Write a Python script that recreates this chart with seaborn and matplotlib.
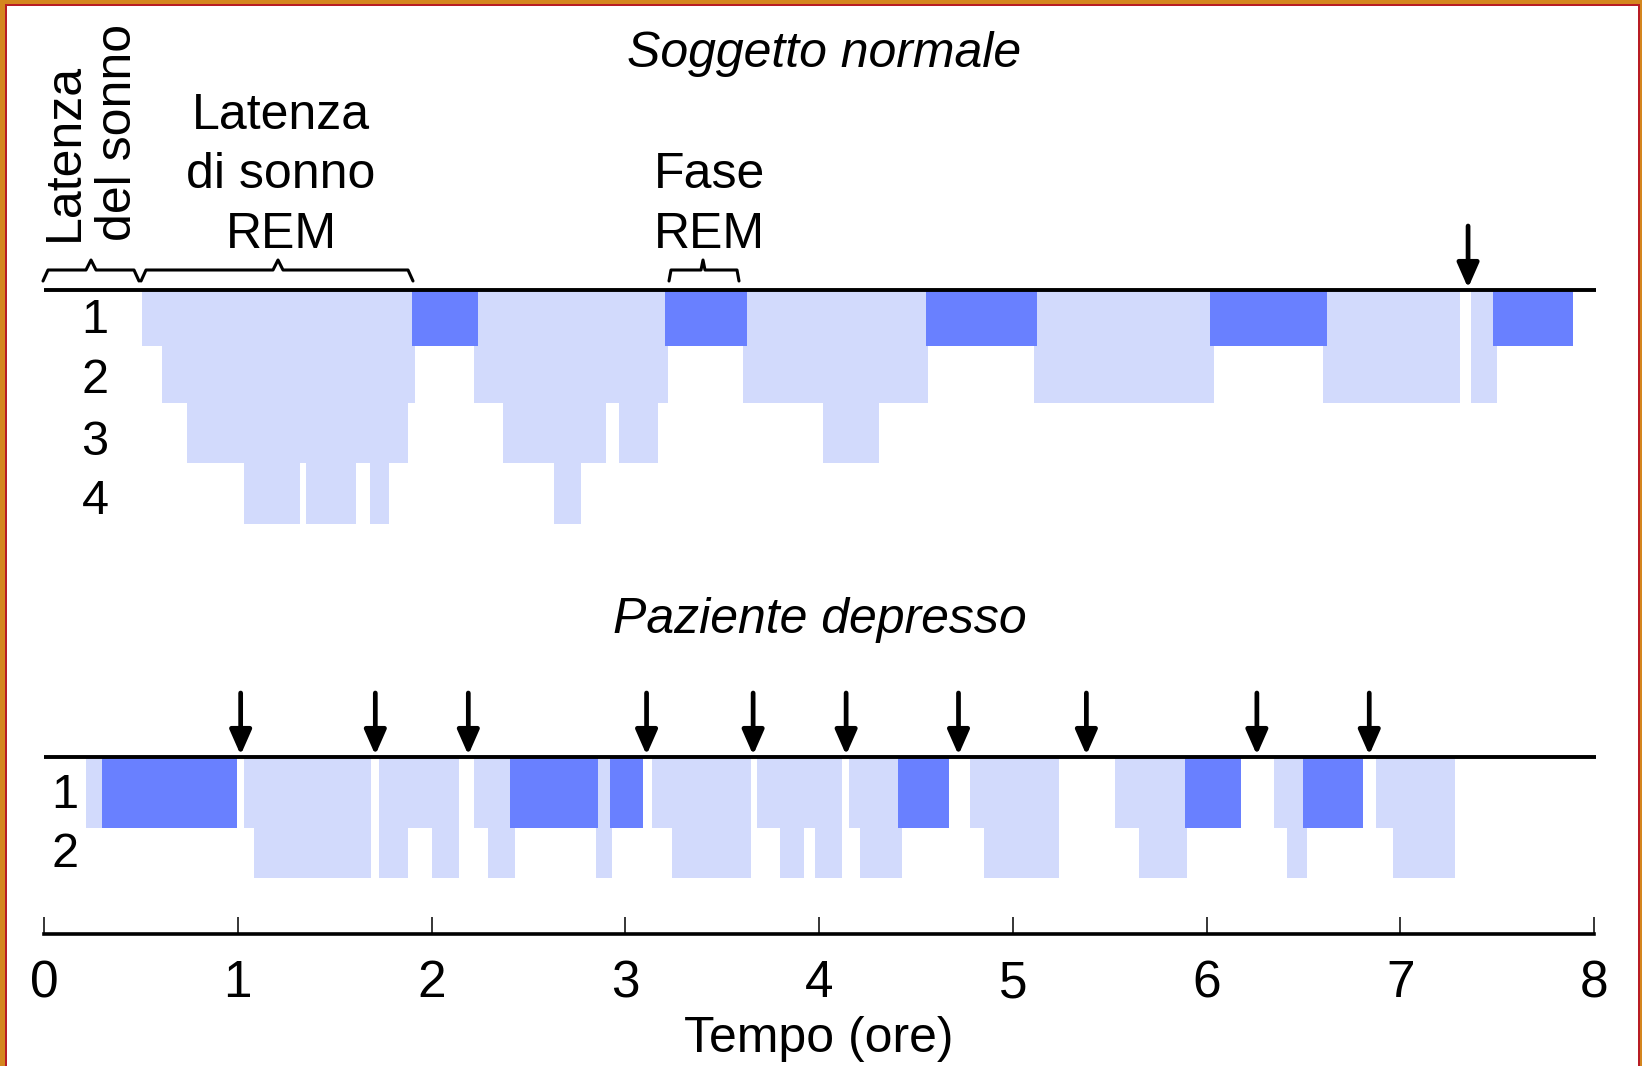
import matplotlib
matplotlib.use("Agg")
import matplotlib.pyplot as plt
from matplotlib.patches import Rectangle
import pandas as pd
import seaborn as sns

# ---- dati (ore) ----
# soggetto normale: blocchi di sonno non-REM (inizio, fine) per stadio
norm_stadio1 = [(0.506, 1.90), (2.24, 3.205), (3.63, 4.55), (5.125, 6.02), (6.62, 7.31), (7.365, 7.48)]
norm_stadio2 = [(0.61, 1.915), (2.22, 3.22), (3.61, 4.56), (5.11, 6.04), (6.60, 7.31), (7.365, 7.50)]
norm_stadio3 = [(0.74, 1.88), (2.37, 2.90), (2.97, 3.17), (4.02, 4.31)]
norm_stadio4 = [(1.03, 1.32), (1.35, 1.61), (1.68, 1.78), (2.63, 2.77)]
norm_rem = [(1.90, 2.24), (3.205, 3.63), (4.55, 5.125), (6.02, 6.62), (7.48, 7.89)]
norm_risvegli = [7.35]

# paziente depresso
dep_stadio1 = [(0.216, 0.30), (1.034, 1.69), (1.73, 2.14), (2.22, 2.405), (2.86, 2.92), (3.14, 3.65),
               (3.68, 4.12), (4.155, 4.41), (4.78, 5.24), (5.53, 5.89), (6.35, 6.50), (6.875, 7.28)]
dep_stadio2 = [(1.085, 1.69), (1.73, 1.88), (2.00, 2.14), (2.29, 2.43), (2.85, 2.93), (3.24, 3.65),
               (3.80, 3.92), (3.98, 4.12), (4.21, 4.43), (4.85, 5.24), (5.65, 5.90), (6.415, 6.52),
               (6.96, 7.28)]
dep_rem = [(0.30, 0.996), (2.405, 2.86), (2.92, 3.09), (4.41, 4.67), (5.89, 6.18), (6.50, 6.81)]
dep_risvegli = [1.015, 1.71, 2.19, 3.11, 3.66, 4.14, 4.72, 5.38, 6.26, 6.84]

stadi_norm = ["1", "2", "3", "4"]
stadi_dep = ["1", "2"]
ore = list(range(9))

# ---- layout (pixel della figura, dall'alto) ----
W, H = 1642, 1066
X0, PX_ORA = 44, 193.75
base_norm, fondi_norm = 290, [346, 402.5, 462.5, 524]
base_dep, fondi_dep = 757, [828, 878]
y_asse = 934
CHIARO, SCURO = "#D2DAFC", "#6980FF"


def h(px):
    return (px - X0) / PX_ORA


rows = []
for pan, liste in [("norm", [norm_stadio1, norm_stadio2, norm_stadio3, norm_stadio4]),
                   ("dep", [dep_stadio1, dep_stadio2])]:
    for k, lst in enumerate(liste):
        for a, b in lst:
            rows.append(dict(pannello=pan, stadio=k + 1, inizio=a, fine=b, rem=False))
for pan, lst in [("norm", norm_rem), ("dep", dep_rem)]:
    for a, b in lst:
        rows.append(dict(pannello=pan, stadio=1, inizio=a, fine=b, rem=True))
df = pd.DataFrame(rows)

sns.set_theme(style="white")
plt.rcParams["font.family"] = ["Liberation Sans", "DejaVu Sans"]
plt.rcParams.update({"text.color": "black", "axes.labelcolor": "black", "xtick.color": "black"})

fig = plt.figure(figsize=(W / 100, H / 100), dpi=100, facecolor="#D4861E")
fig.patches.append(Rectangle((5 / W, 0), 1635 / W, 1062.5 / H, transform=fig.transFigure,
                             facecolor="#B81C24", edgecolor="none", zorder=-2))
fig.patches.append(Rectangle((7 / W, 0), 1631 / W, 1060.5 / H, transform=fig.transFigure,
                             facecolor="white", edgecolor="none", zorder=-1))

ax = fig.add_axes([X0 / W, 0, 8 * PX_ORA / W, 1])
ax.set_facecolor("none")
ax.set_xlim(0, 8)
ax.set_ylim(H, 0)

for pan, base, fondi in [("norm", base_norm, fondi_norm), ("dep", base_dep, fondi_dep)]:
    sub = df[df.pannello == pan].sort_values(["rem", "stadio"], ascending=[True, False])
    for (rem, st), g in sub.groupby(["rem", "stadio"], sort=False):
        ax.bar(g.inizio, [fondi[st - 1] - base] * len(g), width=g.fine - g.inizio, bottom=base,
               align="edge", color=SCURO if rem else CHIARO, linewidth=0, zorder=2 + rem)
    ax.plot([0, 8.01], [base, base], color="black", lw=2.8, solid_capstyle="butt", zorder=4,
            clip_on=False)

for xs, base, top in [(norm_risvegli, base_norm - 2, 226), (dep_risvegli, base_dep - 2, 693)]:
    for x in xs:
        ax.annotate("", xy=(x, base), xytext=(x, top),
                    arrowprops=dict(arrowstyle="-|>,head_length=0.75,head_width=0.33", lw=3.4,
                                    color="black", shrinkA=0, shrinkB=0, mutation_scale=20),
                    zorder=5)

FS = 36
for lab, yb in zip(stadi_norm, [333, 393, 455, 514]):
    ax.text(h(95), yb, lab, fontsize=FS - 1, ha="center", va="baseline")
for lab, yb in zip(stadi_dep, [808, 867]):
    ax.text(h(65), yb, lab, fontsize=FS - 1, ha="center", va="baseline")

ax.text(h(824), 67, "Soggetto normale", fontsize=FS, style="italic", ha="center", va="baseline")
ax.text(h(820), 633, "Paziente depresso", fontsize=FS, style="italic", ha="center", va="baseline")

for riga, yb in zip(["Latenza", "di sonno", "REM"], [129, 188, 248]):
    ax.text(h(281), yb, riga, fontsize=FS, ha="center", va="baseline")
for riga, yb in zip(["Fase", "REM"], [188, 248]):
    ax.text(h(709), yb, riga, fontsize=FS, ha="center", va="baseline")
for riga, xb in zip(["Latenza", "del sonno"], [78, 131]):
    ax.text(h(xb), 241, riga, fontsize=FS, rotation=90, rotation_mode="anchor",
            ha="left", va="baseline")


def graffa(x0, x1, xp, y=270, punta=260, fine=281, d=5):
    xs = [h(x0), h(x0 + d), h(xp - d), h(xp), h(xp + d), h(x1 - d), h(x1)]
    ys = [fine, y, y, punta, y, y, fine]
    ax.plot(xs, ys, color="black", lw=2.2, clip_on=False, zorder=4)


graffa(43, 139, 91)
graffa(141, 413, 278)
graffa(669, 739, 703, d=2)

sns.despine(ax=ax, left=True, top=True, right=True)
ax.spines["bottom"].set_position(("data", y_asse))
ax.spines["bottom"].set_linewidth(2.6)
ax.spines["bottom"].set_color("black")
ax.set_yticks([])
ax.set_xticks(ore)
ax.set_xticklabels([str(o) for o in ore], fontsize=FS + 1)
ax.tick_params(axis="x", direction="in", length=12, width=1.1, color="black", pad=18,
               bottom=True)
ax.set_xlabel("Tempo (ore)", fontsize=FS, labelpad=6, color="black")

fig.savefig("out.png", dpi=100, facecolor=fig.get_facecolor())
